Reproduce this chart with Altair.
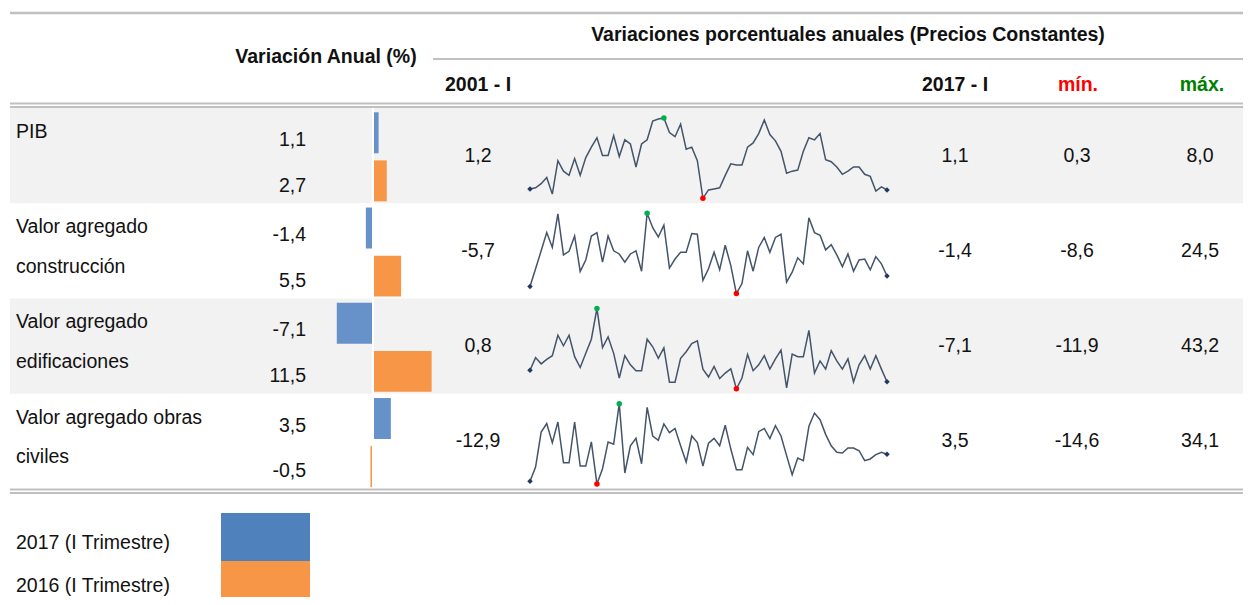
import altair as alt
import pandas as pd

FONT = "Liberation Sans Narrow, Arial Narrow, Liberation Sans, sans-serif"

# ---------------- data ----------------
etiquetas = [["PIB"], ["Valor agregado", "construcción"], ["Valor agregado", "edificaciones"],
             ["Valor agregado obras", "civiles"]]
var_2017 = [1.1, -1.4, -7.1, 3.5]
var_2016 = [2.7, 5.5, 11.5, -0.5]
inicio = [1.2, -5.7, 0.8, -12.9]      # 2001 - I
final = [1.1, -1.4, -7.1, 3.5]        # 2017 - I
minimos = [0.3, -8.6, -11.9, -14.6]
maximos = [8.0, 24.5, 43.2, 34.1]
leyenda = ["2017 (I Trimestre)", "2016 (I Trimestre)"]

serie_pib = [1.2, 1.3, 1.7, 2.3, 0.7, 3.9, 2.9, 2.5, 4.1, 2.5, 4.2, 5.2, 6.1, 4.4, 4.4, 6.3, 4.3,
             5.9, 5.5, 3.3, 5.5, 5.9, 7.7, 7.9, 8.0, 6.6, 6.2, 7.4, 5.0, 5.2, 3.9, 0.3, 1.1, 1.2,
             1.3, 2.5, 3.6, 3.5, 3.5, 5.2, 5.6, 6.5, 7.8, 6.4, 5.8, 4.8, 2.7, 2.9, 3.0, 4.8, 6.1,
             5.9, 6.5, 4.0, 3.8, 3.3, 2.6, 2.9, 3.3, 3.3, 2.6, 2.4, 1.0, 1.4, 1.1]
serie_construccion = [-5.7, 1.6, 9.0, 16.5, 10.4, 24.2, 7.3, 8.8, 15.1, 0.5, 5.2, 15.1, 16.5, 4.3,
                      15.1, 9.0, 7.7, 4.3, 7.7, 9.0, 0.6, 24.5, 18.5, 14.7, 19.6, 1.9, 5.6, 8.4,
                      8.4, 16.1, 15.8, -3.2, 1.6, 8.4, 1.2, 11.3, 2.9, -8.6, -4.5, 9.0, 0.6, 10.4,
                      14.5, 8.4, 14.5, 15.8, -3.9, 0.2, 6.1, 3.6, 22.6, 16.5, 15.4, 9.4, 11.5, 7.3,
                      2.5, 7.7, 0.6, 5.2, 5.6, 1.2, 6.6, 3.6, -1.4]
serie_edificaciones = [0.8, 9.5, 5.2, 8.3, 10.8, 24.8, 17.6, 24.8, 10.1, 2.7, 12.4, 22.1, 43.2,
                       16.4, 23.6, 12.4, -4.5, 10.8, 4.5, 0.5, 0.5, 22.1, 16.9, 9.0, 16.2, -7.4,
                       -7.4, 9.0, 13.5, 19.1, 20.9, 1.6, -3.8, 3.4, -4.9, -1.1, 1.8, -11.9, -4.5,
                       11.7, 0.5, 4.5, 10.8, 1.6, 8.6, 14.6, -11.2, 11.9, 10.1, 10.1, 28.1, -1.1,
                       7.2, 1.6, 14.2, 7.2, 1.6, 8.6, -7.2, 4.5, 10.8, 1.6, 10.8, 1.6, -7.1]
serie_obras = [-12.9, -4.3, 16.9, 22.0, 10.5, 23.0, -1.7, -1.7, 23.0, -3.7, -3.7, 10.9, -14.6,
               -5.3, 10.9, 9.6, 34.1, -7.9, 8.6, 13.1, -2.3, 31.9, 14.5, 11.9, 21.8, 16.5, 19.1,
               8.6, -1.3, 14.5, 10.5, -3.7, 10.1, 13.1, 8.6, 21.0, 6.6, -5.9, -5.9, 7.6, 3.2,
               17.1, 19.1, 12.9, 20.8, 14.5, 2.6, -8.9, 1.2, -0.4, 20.4, 28.4, 24.4, 15.5, 8.6,
               4.6, 4.2, 7.2, 7.2, 5.6, -0.4, 0.6, 3.2, 4.6, 3.5]
series = [serie_pib, serie_construccion, serie_edificaciones, serie_obras]


def fmt(v):
    return f"{v:.1f}".replace(".", ",")


# ---------------- tables built from the lists ----------------
filas_df = pd.DataFrame({"fila": list(range(4))})
lab_df = pd.DataFrame([{"fila": r, "linea": k, "texto": t}
                       for r, ls in enumerate(etiquetas) for k, t in enumerate(ls)])
bar_df = pd.DataFrame(
    [{"fila": r, "anio": 0, "serie": leyenda[0], "valor": v, "texto": fmt(v)} for r, v in enumerate(var_2017)]
    + [{"fila": r, "anio": 1, "serie": leyenda[1], "valor": v, "texto": fmt(v)} for r, v in enumerate(var_2016)])
num_df = pd.DataFrame({"fila": list(range(4)),
                       "ini": [fmt(v) for v in inicio], "fin": [fmt(v) for v in final],
                       "mn": [fmt(v) for v in minimos], "mx": [fmt(v) for v in maximos]})
spark_df = pd.DataFrame([{"fila": r, "i": i, "v": v} for r, s in enumerate(series) for i, v in enumerate(s)])
ley_df = pd.DataFrame({"serie": leyenda, "k": [0, 1]})

# ---------------- scales ----------------
Y = alt.Scale(domain=[0, 4], range=[100, 481], nice=False, zero=False)
XB = alt.Scale(domain=[-10, 15], range=[314, 441.5], nice=False, zero=False)
XS = alt.Scale(domain=[0, 64], range=[522, 879], nice=False, zero=False)
COL = alt.Scale(domain=leyenda, range=["#6791c9", "#f79646"])
TXT = dict(font=FONT, fontSize=19.5, color="#111111", baseline="middle")
one = pd.DataFrame({"a": [0]})


def rule(x1, x2, y, color="#c0c0c0", w=2):
    return alt.Chart(one).mark_rule(color=color, strokeWidth=w).encode(
        x=alt.value(x1), x2=alt.value(x2), y=alt.value(y))


def htext(t, x, y, color="#111111", size=19.5, align="center"):
    return alt.Chart(pd.DataFrame({"t": [t]})).mark_text(
        font=FONT, fontSize=size, fontWeight="bold", color=color, align=align, baseline="middle"
    ).encode(text="t:N", x=alt.value(x), y=alt.value(y))


bg = alt.Chart(filas_df).transform_filter("datum.fila % 2 == 0").transform_calculate(
    y0="datum.fila", y1="datum.fila + 1").mark_rect(color="#f2f2f2").encode(
    x=alt.value(2), x2=alt.value(1243), y=alt.Y("y0:Q", scale=Y, axis=None), y2="y1:Q")

labels = alt.Chart(lab_df).transform_calculate(
    ty="datum.fila + (datum.linea == 0 ? 0.25 : 0.665)").mark_text(align="left", **TXT).encode(
    text="texto:N", x=alt.value(8), y=alt.Y("ty:Q", scale=Y, axis=None))

bar_txt = alt.Chart(bar_df).transform_calculate(
    ty="datum.fila + (datum.anio == 0 ? 0.335 : 0.815)").mark_text(align="right", **TXT).encode(
    text="texto:N", x=alt.value(298), y=alt.Y("ty:Q", scale=Y, axis=None))

bars = alt.Chart(bar_df).transform_calculate(
    y0="datum.fila + (datum.anio == 0 ? 0.045 : 0.55)", y1="datum.y0 + 0.43").mark_rect().encode(
    x=alt.X("valor:Q", scale=XB, axis=None), x2=alt.datum(0),
    y=alt.Y("y0:Q", scale=Y, axis=None), y2="y1:Q",
    color=alt.Color("serie:N", scale=COL, legend=None))

sep = alt.Chart(one).mark_rule(color="white", strokeWidth=2).encode(
    x=alt.value(365), y=alt.value(100), y2=alt.value(481))


def numcol(field, x):
    return alt.Chart(num_df).transform_calculate(ty="datum.fila + 0.5").mark_text(
        align="center", **TXT).encode(text=f"{field}:N", x=alt.value(x),
                                      y=alt.Y("ty:Q", scale=Y, axis=None))


spark_base = alt.Chart(spark_df).transform_joinaggregate(
    vmin="min(v)", vmax="max(v)", groupby=["fila"]).transform_calculate(
    yy="datum.fila + 0.104 + (datum.vmax - datum.v) / (datum.vmax - datum.vmin) * 0.844")
enc = dict(x=alt.X("i:Q", scale=XS, axis=None), y=alt.Y("yy:Q", scale=Y, axis=None))
spark_line = spark_base.mark_line(color="#44546a", strokeWidth=1.5).encode(detail="fila:N", **enc)
spark_ends = spark_base.transform_filter("datum.i == 0 || datum.i == 64").mark_point(
    shape="diamond", filled=True, size=30, color="#1f3864", opacity=1).encode(**enc)
spark_min = spark_base.transform_filter("datum.v == datum.vmin").mark_point(
    shape="circle", filled=True, size=30, color="#ff0000", opacity=1).encode(**enc)
spark_max = spark_base.transform_filter("datum.v == datum.vmax").mark_point(
    shape="circle", filled=True, size=30, color="#00b050", opacity=1).encode(**enc)

ley_txt = alt.Chart(ley_df).mark_text(align="left", **TXT).encode(
    text="serie:N", x=alt.value(8),
    y=alt.Y("k:Q", scale=alt.Scale(domain=[0, 1], range=[535, 578]), axis=None))
ley_sw = alt.Chart(ley_df).transform_calculate(k2="datum.k + 1").mark_rect().encode(
    x=alt.value(213), x2=alt.value(302),
    y=alt.Y("k:Q", scale=alt.Scale(domain=[0, 2], range=[505, 601]), axis=None), y2="k2:Q",
    color=alt.Color("serie:N", scale=alt.Scale(domain=leyenda, range=["#4f81bd", "#f79646"]), legend=None))

layers = [
    bg,
    rule(2, 1243, 5, w=2.5),
    htext("Variaciones porcentuales anuales  (Precios Constantes)", 840, 27),
    htext("Variación Anual (%)", 318, 49),
    rule(425, 1243, 51),
    htext("2001 - I", 470, 77),
    htext("2017 - I", 947, 77),
    htext("mín.", 1070, 77, color="#ff0000"),
    htext("máx.", 1194, 77, color="#008000"),
    rule(2, 1243, 95.5, w=1.8),
    rule(2, 1243, 99, w=1.8),
    labels, bar_txt, bars, sep,
    numcol("ini", 470),
    spark_line, spark_ends, spark_min, spark_max,
    numcol("fin", 947), numcol("mn", 1069), numcol("mx", 1192),
    rule(2, 1243, 481.5, w=1.8),
    rule(2, 1243, 485, w=1.8),
    ley_txt, ley_sw,
]

chart = alt.layer(*layers).resolve_scale(x="independent", y="independent", color="independent").properties(
    width=1235, height=589, padding=0, background="white",
    autosize=alt.AutoSizeParams(type="none")).configure_view(stroke=None)

chart.save("out.html", embed_options={"renderer": "svg", "actions": False})
